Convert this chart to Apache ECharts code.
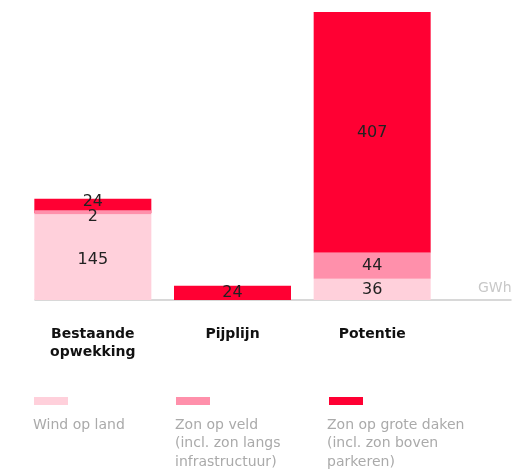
<!DOCTYPE html>
<html>
<head>
<meta charset="utf-8">
<script src="https://cdn.jsdelivr.net/npm/echarts@6/dist/echarts.min.js"></script>
<style>
  html, body { margin: 0; padding: 0; background: #fff; }
  #container { width: 531px; height: 473px; }
</style>
</head>
<body>
<div id="container"></div>
<script>
var categories = ["Bestaande\nopwekking", "Pijplijn", "Potentie"];
var seriesNames = ["Wind op land", "Zon op veld", "Zon op grote daken"];
var legendTexts = [
  "Wind op land",
  "Zon op veld\n(incl. zon langs\ninfrastructuur)",
  "Zon op grote daken\n(incl. zon boven\nparkeren)",
];
var windOpLand = [145, null, 36];
var zonOpVeld = [2, null, 44];
var zonOpDaken = [24, 24, 407];
var unit = "GWh";

var colors = ["#FFD0DB", "#FF90AB", "#FF0033"];

var dom = document.getElementById("container");
var myChart = echarts.init(dom, null, { renderer: "canvas" });

var option;

// small nudges so the labels in the first (crowded) column don't overlap
var firstColumnLabelShift = [3, 5, -4];

function barSeries(idx, data) {
  return {
    name: seriesNames[idx],
    type: "bar",
    stack: "total",
    xAxisIndex: 0,
    yAxisIndex: 0,
    barWidth: 117,
    z: idx === 1 ? 3 : 2,
    data: data.map(function (v, i) {
      if (i !== 0 || v == null) return v;
      return { value: v, label: { offset: [0, firstColumnLabelShift[idx]] } };
    }),
    itemStyle: { color: colors[idx] },
    label: {
      show: true,
      position: "inside",
      color: "#222",
      fontSize: 16,
      fontFamily: "DejaVu Sans",
    },
    emphasis: { disabled: true },
  };
}

option = {
  animation: false,
  title: {
    text: unit,
    left: 473,
    top: 276,
    textStyle: {
      color: "#c8c8c8",
      fontSize: 14,
      fontWeight: "normal",
      fontFamily: "DejaVu Sans",
    },
  },
  grid: [
    { left: 23, right: 89, top: 12, bottom: 173 },
    { left: 35, right: 20, top: 12, bottom: 173 },
  ],
  xAxis: [
    {
      type: "category",
      gridIndex: 0,
      data: categories,
      axisLine: { show: false },
      axisTick: { show: false },
      axisLabel: {
        margin: 25,
        color: "#111",
        fontSize: 14,
        fontWeight: "bold",
        fontFamily: "DejaVu Sans",
        lineHeight: 18,
      },
    },
    {
      type: "value",
      gridIndex: 1,
      min: 0,
      max: 1,
      axisLine: { show: true, lineStyle: { color: "#cccccc", width: 1.5 } },
      axisTick: { show: false },
      axisLabel: { show: false },
      splitLine: { show: false },
    },
  ],
  yAxis: [
    {
      type: "value",
      gridIndex: 0,
      min: 0,
      max: 487,
      show: false,
      splitLine: { show: false },
    },
    {
      type: "value",
      gridIndex: 1,
      min: 0,
      max: 1,
      show: false,
      splitLine: { show: false },
    },
  ],
  legend: seriesNames.map(function (name, i) {
    return {
      data: [name],
      left: [29, 171, 324][i],
      top: 392,
      padding: 5,
      itemWidth: 34,
      itemHeight: 8,
      icon: "rect",
      selectedMode: false,
      formatter: function () {
        return "";
      },
    };
  }),
  graphic: legendTexts.map(function (t, i) {
    return {
      type: "text",
      left: [33, 175, 327][i],
      top: 416,
      style: {
        text: t,
        fill: "#aaaaaa",
        font: "14px 'DejaVu Sans'",
        lineHeight: 18.5,
      },
    };
  }),
  series: [barSeries(0, windOpLand), barSeries(1, zonOpVeld), barSeries(2, zonOpDaken)],
};

option.series[1].barMinHeight = 4;

if (option && typeof option === "object") {
  myChart.setOption(option);
}

window.addEventListener("resize", myChart.resize);
</script>
</body>
</html>
